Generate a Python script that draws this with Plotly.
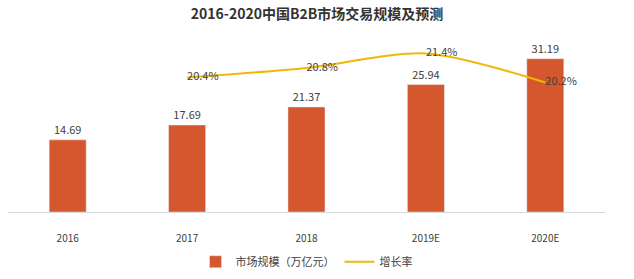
import plotly.graph_objects as go

categories = ["2016", "2017", "2018", "2019E", "2020E"]
market_size = [14.69, 17.69, 21.37, 25.94, 31.19]
growth_cats = ["2017", "2018", "2019E", "2020E"]
growth_rate = [20.4, 20.8, 21.4, 20.2]

font_family = "Noto Sans CJK SC, Noto Sans, sans-serif"

fig = go.Figure()
fig.add_trace(go.Bar(
    x=categories, y=market_size, name="市场规模（万亿元）",
    marker_color="#D4572E", width=0.31,
    text=[f"{v:.2f}" for v in market_size], textposition="outside",
    textfont=dict(size=11, color="#404040"), cliponaxis=False,
))
fig.add_trace(go.Scatter(
    x=growth_cats, y=growth_rate, name="增长率", yaxis="y2",
    mode="lines+text", line=dict(color="#F2B705", width=2, shape="spline", smoothing=0.8),
    text=[f"{v:.1f}%" for v in growth_rate], textposition="middle right",
    textfont=dict(size=11, color="#404040"), cliponaxis=False,
))
fig.update_layout(
    width=634, height=279,
    margin=dict(l=8, r=29, t=40, b=67, autoexpand=False),
    paper_bgcolor="white", plot_bgcolor="white",
    font=dict(family=font_family, color="#404040"),
    title=dict(text="<b>2016-2020中国B2B市场交易规模及预测</b>", x=0.5, xanchor="center",
               y=0.95, yanchor="middle", font=dict(size=14, color="#333333")),
    xaxis=dict(showgrid=False, showline=True, linecolor="#D9D9D9", linewidth=1,
               ticks="outside", ticklen=17, tickcolor="rgba(0,0,0,0)", automargin=False,
               tickfont=dict(size=10, color="#404040")),
    yaxis=dict(range=[0, 35], visible=False),
    yaxis2=dict(range=[14.817, 21.9625], overlaying="y", visible=False),
    legend=dict(orientation="h", x=0.5, xanchor="center", y=-0.205, yanchor="top",
                itemwidth=30, font=dict(size=11, color="#404040")),
    showlegend=True, bargap=0.69,
)
fig.write_html("out.html")
